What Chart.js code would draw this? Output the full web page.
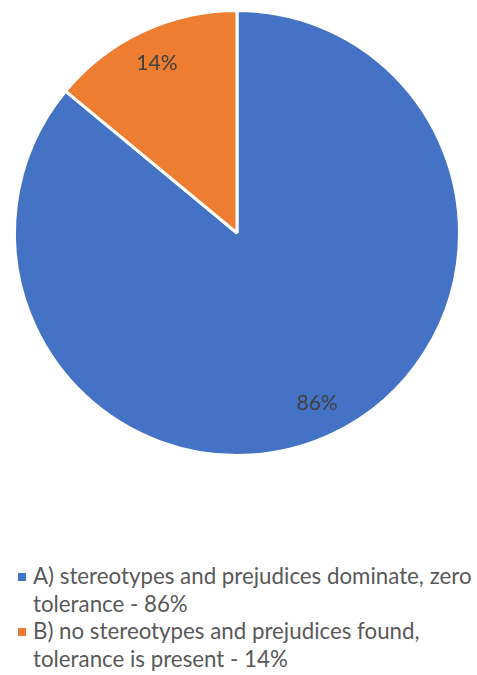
<!DOCTYPE html>
<html>
<head>
<meta charset="utf-8">
<script src="https://cdn.jsdelivr.net/npm/chart.js@4/dist/chart.umd.min.js"></script>
<style>
  body { margin: 0; background: #fff; width: 477px; height: 675px; overflow: hidden; }
  #wrap { position: relative; width: 477px; height: 466px; }
  #legend { position: absolute; top: 562px; left: 0; width: 477px; font-family: Lato, "Open Sans", sans-serif; font-size: 22.3px; color: #595959; }
  .item { position: relative; padding-left: 33px; line-height: 27.5px; white-space: nowrap; }
  .box { position: absolute; left: 18px; top: 11px; width: 8px; height: 8px; }
</style>
</head>
<body>
<div id="wrap"><canvas id="pieChart"></canvas></div>
<div id="legend"></div>
<script>
const categories = [
  ['A) stereotypes and prejudices dominate, zero', 'tolerance - 86%'],
  ['B) no stereotypes and prejudices found,', 'tolerance is present - 14%']
];
const values = [86, 14];
const valueLabels = ['86%', '14%'];
const colors = ['#4472C4', '#ED7D31'];

// ラベルを扇形の中に描く
const sliceLabels = {
  id: 'sliceLabels',
  afterDatasetsDraw(chart) {
    const ctx = chart.ctx;
    const meta = chart.getDatasetMeta(0);
    ctx.save();
    ctx.font = '21px Lato, "Open Sans", sans-serif';
    ctx.fillStyle = '#404040';
    ctx.textAlign = 'center';
    ctx.textBaseline = 'middle';
    meta.data.forEach((arc, i) => {
      const mid = (arc.startAngle + arc.endAngle) / 2;
      const r = arc.outerRadius * 0.845;
      ctx.fillText(valueLabels[i], arc.x + Math.cos(mid) * r, arc.y + Math.sin(mid) * r);
    });
    ctx.restore();
  }
};

new Chart(document.getElementById('pieChart'), {
  type: 'pie',
  data: {
    labels: categories.map(c => c.join(' ')),
    datasets: [{
      data: values,
      backgroundColor: colors,
      borderColor: '#ffffff',
      borderWidth: 3
    }]
  },
  options: {
    responsive: true,
    maintainAspectRatio: false,
    animation: false,
    layout: { padding: { top: 9, bottom: 9, left: 13, right: 16 } },
    plugins: {
      legend: { display: false },
      tooltip: { enabled: false }
    }
  },
  plugins: [sliceLabels]
});

// 凡例
const legend = document.getElementById('legend');
categories.forEach((lines, i) => {
  const div = document.createElement('div');
  div.className = 'item';
  div.innerHTML = '<span class="box" style="background:' + colors[i] + '"></span>' + lines.join('<br>');
  legend.appendChild(div);
});
</script>
</body>
</html>
